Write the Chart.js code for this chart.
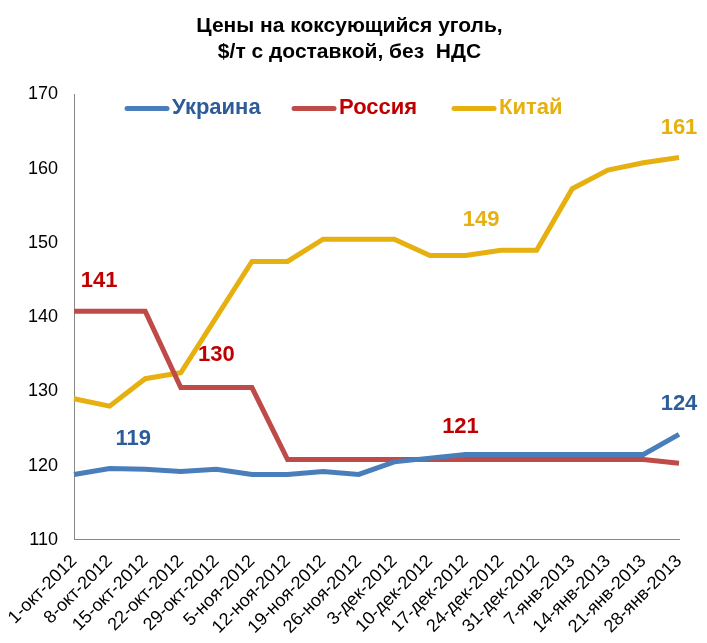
<!DOCTYPE html>
<html>
<head>
<meta charset="utf-8">
<script src="https://cdn.jsdelivr.net/npm/chart.js@4"></script>
<style>
  body { margin: 0; background: #fff; }
  #wrap { width: 707px; height: 643px; }
</style>
</head>
<body>
<div id="wrap"><canvas id="coal"></canvas></div>
<script>
const weeks = ['1-окт-2012', '8-окт-2012', '15-окт-2012', '22-окт-2012', '29-окт-2012', '5-ноя-2012',
  '12-ноя-2012', '19-ноя-2012', '26-ноя-2012', '3-дек-2012', '10-дек-2012', '17-дек-2012',
  '24-дек-2012', '31-дек-2012', '7-янв-2013', '14-янв-2013', '21-янв-2013', '28-янв-2013'];
const ukraine = [118.8, 119.6, 119.5, 119.2, 119.5, 118.8, 118.8, 119.2, 118.8, 120.5, 121, 121.5, 121.5, 121.5, 121.5, 121.5, 121.5, 124.2];
const russia = [140.8, 140.8, 140.8, 130.5, 130.5, 130.5, 120.8, 120.8, 120.8, 120.8, 120.8, 120.8, 120.8, 120.8, 120.8, 120.8, 120.8, 120.3];
const china = [129, 128, 131.7, 132.5, 140, 147.5, 147.5, 150.5, 150.5, 150.5, 148.3, 148.3, 149, 149, 157.3, 159.8, 160.8, 161.5];
const seriesNames = ['Украина', 'Россия', 'Китай'];
const colors = ['#4a7ebb', '#be4b48', '#e6b010'];
const labelColors = ['#2e5c99', '#c00000', '#e6b010'];
// value callouts: series, point index, text
const callouts = [
  { s: 1, i: 0, text: '141', dx: 25, dy: -30 },
  { s: 1, i: 4, text: '130', dx: 0, dy: -33 },
  { s: 0, i: 2, text: '119', dx: -12, dy: -30 },
  { s: 1, i: 11, text: '121', dx: -5, dy: -33 },
  { s: 2, i: 12, text: '149', dx: -20, dy: -30 },
  { s: 2, i: 17, text: '161', dx: 0, dy: -30 },
  { s: 0, i: 17, text: '124', dx: 0, dy: -30 }
];

const font = "'Liberation Sans', Arial, sans-serif";

const overlay = {
  id: 'overlay',
  afterDatasetsDraw(chart) {
    const c = chart.ctx;
    c.save();
    c.font = 'bold 22px ' + font;
    c.textAlign = 'center';
    c.textBaseline = 'middle';
    callouts.forEach(l => {
      const pt = chart.getDatasetMeta(l.s).data[l.i];
      c.fillStyle = labelColors[l.s];
      c.fillText(l.text, pt.x + l.dx, pt.y + l.dy);
    });
    // legend inside plot
    const a = chart.chartArea;
    const starts = [a.left + 53, a.left + 220, a.left + 380];
    c.textAlign = 'left';
    seriesNames.forEach((n, k) => {
      const x = starts[k], y = a.top + 14;
      c.strokeStyle = colors[k];
      c.lineWidth = 5;
      c.lineCap = 'round';
      c.beginPath(); c.moveTo(x, y); c.lineTo(x + 40, y); c.stroke();
      c.fillStyle = labelColors[k];
      c.fillText(n, x + 45, y);
    });
    c.restore();
  }
};

new Chart(document.getElementById('coal'), {
  type: 'line',
  data: {
    labels: weeks,
    datasets: seriesNames.map((n, k) => ({
      label: n,
      data: [ukraine, russia, china][k],
      borderColor: colors[k],
      borderWidth: 5,
      pointRadius: 0,
      tension: 0
    }))
  },
  options: {
    responsive: true,
    maintainAspectRatio: false,
    animation: false,
    layout: { padding: { right: 28, left: 20, bottom: 2 } },
    plugins: {
      legend: { display: false },
      tooltip: { enabled: false },
      title: {
        display: true,
        text: ['Цены на коксующийся уголь,', '$/т с доставкой, без  НДС'],
        color: '#000',
        font: { family: font, size: 21, weight: 'bold' },
        padding: { top: 14, bottom: 30 }
      }
    },
    scales: {
      x: {
        grid: { display: false, drawTicks: true },
        border: { color: '#888' },
        ticks: { color: '#000', font: { family: font, size: 18 }, maxRotation: 45, minRotation: 45, autoSkip: false }
      },
      y: {
        min: 110, max: 170,
        grid: { display: false },
        border: { color: '#888' },
        ticks: { stepSize: 10, color: '#000', padding: 8, font: { family: font, size: 18 } }
      }
    }
  },
  plugins: [overlay]
});
</script>
</body>
</html>
